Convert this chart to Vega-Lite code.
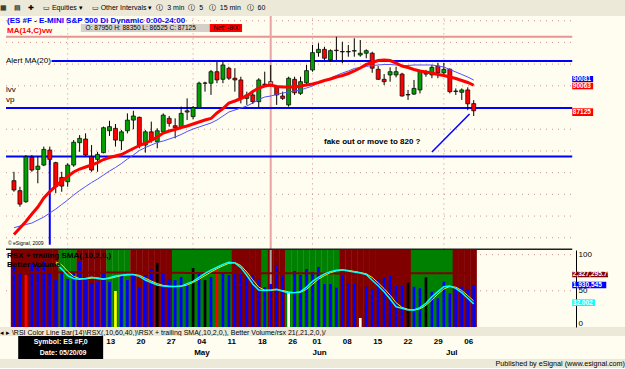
{
"$schema":"https://vega.github.io/schema/vega-lite/v6.json",
"background":"#ECE9D8",
"padding":{"left":0,"right":0,"top":4,"bottom":0},
"spacing":0,
"title":{"text":"\u00a0▦\u2003▤\u2003✚\u2003\u00a0▭\u00a0Equities\u00a0▾\u2003\u00a0▭\u00a0Other Intervals\u00a0▾\u00a0\u00a0Ⓘ\u00a0\u00a03 min\u00a0\u00a0Ⓘ\u00a0\u00a05\u00a0\u00a0\u00a0Ⓘ\u00a0\u00a015 min\u00a0\u00a0\u00a0Ⓘ\u00a0\u00a060","anchor":"start","fontSize":7,"fontWeight":"normal","offset":5,"color":"#000"},
"config":{"view":{"stroke":null},"font":"Liberation Sans","title":{"font":"Liberation Sans","fontWeight":"normal","color":"#000"}},
"datasets":{
"c":[
{"i":1,"o":79075,"h":80100,"l":77800,"c":78000,"m1":72871,"m2":73654,"v":2596000,"vc":"n","z":"d","vm":2350000},
{"i":2,"o":77925,"h":78375,"l":76075,"c":76375,"m1":73619,"m2":73850,"v":2330500,"vc":"n","z":"d","vm":2352000},
{"i":3,"o":76650,"h":82025,"l":76525,"c":81825,"m1":74368,"m2":74023,"v":2264200,"vc":"r","z":"d","vm":2354000},
{"i":4,"o":81775,"h":82025,"l":80100,"c":80300,"m1":75232,"m2":74195,"v":2662100,"vc":"n","z":"d","vm":2355000},
{"i":5,"o":80375,"h":81925,"l":78775,"c":80750,"m1":76039,"m2":74541,"v":2596000,"vc":"n","z":"d","vm":2356000},
{"i":6,"o":80875,"h":83000,"l":80750,"c":82675,"m1":77075,"m2":74887,"v":2695300,"vc":"n","z":"d","vm":2357000},
{"i":7,"o":82600,"h":83000,"l":80875,"c":81525,"m1":77824,"m2":75347,"v":2330500,"vc":"n","z":"d","vm":2357000},
{"i":8,"o":81150,"h":81250,"l":77625,"c":78375,"m1":78458,"m2":75808,"v":2131600,"vc":"n","z":"d","vm":2356000,"r1":88,"r2":90},
{"i":9,"o":79450,"h":80100,"l":77800,"c":78450,"m1":79034,"m2":76327,"v":2330500,"vc":"n","z":"u","vm":2355000,"r1":80,"r2":86},
{"i":10,"o":78950,"h":81075,"l":78375,"c":80875,"m1":79552,"m2":76845,"v":2131600,"vc":"n","z":"u","vm":2354000,"r1":71,"r2":77},
{"i":11,"o":80875,"h":83750,"l":80675,"c":83500,"m1":80071,"m2":77421,"v":2330500,"vc":"n","z":"u","vm":2353000,"r1":67,"r2":70},
{"i":12,"o":83450,"h":84325,"l":82400,"c":83950,"m1":80416,"m2":77939,"v":2695300,"vc":"n","z":"d","vm":2352000,"r1":66,"r2":67},
{"i":13,"o":83875,"h":84525,"l":81825,"c":82025,"m1":80647,"m2":78400,"v":2131600,"vc":"n","z":"d","vm":2351000,"r1":67,"r2":66.5},
{"i":14,"o":81825,"h":83175,"l":80100,"c":80300,"m1":80877,"m2":78861,"v":1999000,"vc":"n","z":"d","vm":2350000,"r1":68.7,"r2":67.5},
{"i":15,"o":81525,"h":82400,"l":80100,"c":82100,"m1":81165,"m2":79264,"v":2032100,"vc":"n","z":"d","vm":2349000,"r1":67,"r2":68},
{"i":16,"o":82300,"h":85300,"l":82225,"c":85175,"m1":81511,"m2":79725,"v":2330500,"vc":"n","z":"d","vm":2348000,"r1":66,"r2":66.5},
{"i":17,"o":84825,"h":85975,"l":84225,"c":85300,"m1":81741,"m2":80186,"v":2032100,"vc":"n","z":"u","vm":2347000,"r1":68,"r2":67},
{"i":18,"o":85100,"h":85600,"l":83000,"c":83750,"m1":81914,"m2":80589,"v":1733700,"vc":"y","z":"u","vm":2346000,"r1":70.5,"r2":69},
{"i":19,"o":83675,"h":84900,"l":82600,"c":84700,"m1":82087,"m2":81050,"v":2264200,"vc":"n","z":"u","vm":2345000,"r1":71.5,"r2":71},
{"i":20,"o":84825,"h":86825,"l":84525,"c":86050,"m1":82432,"m2":81568,"v":2098400,"vc":"n","z":"u","vm":2344000,"r1":72.5,"r2":72},
{"i":21,"o":86050,"h":87125,"l":85000,"c":86525,"m1":82778,"m2":82029,"v":2396800,"vc":"n","z":"d","vm":2343000,"r1":72.5,"r2":72.5},
{"i":22,"o":86375,"h":86450,"l":82800,"c":83175,"m1":83123,"m2":82547,"v":1866300,"vc":"n","z":"d","vm":2342000,"r1":70,"r2":71.5},
{"i":23,"o":83175,"h":84900,"l":82300,"c":84700,"m1":83411,"m2":82893,"v":2264200,"vc":"n","z":"d","vm":2341000,"r1":65,"r2":67.5},
{"i":24,"o":84700,"h":85875,"l":83450,"c":83750,"m1":83699,"m2":83181,"v":2463200,"vc":"n","z":"d","vm":2340000,"r1":61.5,"r2":63.5},
{"i":25,"o":83550,"h":85100,"l":82800,"c":84825,"m1":84103,"m2":83469,"v":2662100,"vc":"k","z":"d","vm":2339000,"r1":58,"r2":60},
{"i":26,"o":84700,"h":86825,"l":84525,"c":86625,"m1":84563,"m2":83642,"v":2330500,"vc":"n","z":"d","vm":2338000,"r1":56.5,"r2":57.5},
{"i":27,"o":86250,"h":86525,"l":85300,"c":85675,"m1":84794,"m2":83872,"v":2131600,"vc":"n","z":"d","vm":2337000,"r1":56,"r2":56.3},
{"i":28,"o":85400,"h":86250,"l":83950,"c":85175,"m1":84967,"m2":84103,"v":2098400,"vc":"n","z":"u","vm":2336000,"r1":55.8,"r2":56},
{"i":29,"o":85300,"h":87600,"l":85100,"c":86825,"m1":85197,"m2":84391,"v":2197900,"vc":"n","z":"u","vm":2335000,"r1":56.5,"r2":56.2},
{"i":30,"o":86975,"h":88550,"l":86050,"c":87125,"m1":85370,"m2":84736,"v":1999000,"vc":"n","z":"u","vm":2334000,"r1":60,"r2":58},
{"i":31,"o":86450,"h":87675,"l":86150,"c":87475,"m1":85600,"m2":85024,"v":2496300,"vc":"k","z":"u","vm":2333000,"r1":63,"r2":61.5},
{"i":32,"o":87475,"h":90475,"l":87400,"c":90300,"m1":85831,"m2":85255,"v":2330500,"vc":"n","z":"u","vm":2332000,"r1":68.5,"r2":66},
{"i":33,"o":90325,"h":90475,"l":89325,"c":90300,"m1":86061,"m2":85485,"v":2098400,"vc":"k","z":"u","vm":2331000,"r1":74,"r2":71},
{"i":34,"o":90300,"h":91825,"l":88950,"c":91625,"m1":86234,"m2":85715,"v":2197900,"vc":"n","z":"u","vm":2330000,"r1":78.5,"r2":76},
{"i":35,"o":91625,"h":92775,"l":90300,"c":90675,"m1":86867,"m2":86061,"v":2463200,"vc":"r","z":"u","vm":2330000,"r1":82.5,"r2":80.5},
{"i":36,"o":90750,"h":92775,"l":90300,"c":92400,"m1":87386,"m2":86522,"v":2363700,"vc":"n","z":"u","vm":2329000,"r1":86.5,"r2":84.5},
{"i":37,"o":92025,"h":92200,"l":90675,"c":90875,"m1":88019,"m2":86983,"v":2264200,"vc":"n","z":"u","vm":2328000,"r1":89.5,"r2":88},
{"i":38,"o":90875,"h":92025,"l":89325,"c":90675,"m1":88250,"m2":87213,"v":2330500,"vc":"n","z":"d","vm":2327000,"r1":88.5,"r2":89},
{"i":39,"o":90675,"h":91050,"l":87975,"c":88550,"m1":88538,"m2":87443,"v":2363700,"vc":"n","z":"d","vm":2326000,"r1":82,"r2":85},
{"i":40,"o":88550,"h":89325,"l":87800,"c":88950,"m1":88826,"m2":87674,"v":2197900,"vc":"n","z":"d","vm":2325000,"r1":71.5,"r2":76},
{"i":41,"o":88950,"h":89525,"l":87900,"c":88175,"m1":89344,"m2":88019,"v":2264200,"vc":"n","z":"d","vm":2324000,"r1":59.5,"r2":65},
{"i":42,"o":88175,"h":90875,"l":87525,"c":90675,"m1":89747,"m2":88423,"v":2131600,"vc":"n","z":"d","vm":2323000,"r1":51,"r2":55},
{"i":43,"o":90200,"h":91625,"l":90100,"c":90150,"m1":89978,"m2":88711,"v":1866300,"vc":"n","z":"u","vm":2322000,"r1":50.3,"r2":51},
{"i":44,"o":90475,"h":92400,"l":89900,"c":90100,"m1":90093,"m2":88826,"v":1965800,"vc":"n","z":"d","vm":2321000,"r1":51,"r2":50.7},
{"i":45,"o":89900,"h":90100,"l":87800,"c":88950,"m1":89920,"m2":88999,"v":2562600,"vc":"n","z":"d","vm":2321000,"r1":52,"r2":51.5},
{"i":46,"o":88825,"h":89325,"l":88375,"c":88550,"m1":89863,"m2":89171,"v":2264200,"vc":"n","z":"d","vm":2320000,"r1":49.5,"r2":50.5},
{"i":47,"o":87800,"h":91050,"l":87600,"c":90875,"m1":89863,"m2":89287,"v":1700500,"vc":"w","z":"u","vm":2320000,"r1":47.4,"r2":48.5},
{"i":48,"o":90750,"h":91050,"l":88950,"c":89200,"m1":89863,"m2":89402,"v":2396800,"vc":"n","z":"u","vm":2319000,"r1":47.5,"r2":47.5},
{"i":49,"o":89125,"h":91050,"l":88950,"c":90475,"m1":89978,"m2":89517,"v":2264200,"vc":"n","z":"u","vm":2319000,"r1":48.8,"r2":48},
{"i":50,"o":90350,"h":92400,"l":90100,"c":91750,"m1":90093,"m2":89747,"v":2463200,"vc":"n","z":"u","vm":2318000,"r1":55,"r2":52},
{"i":51,"o":91825,"h":94700,"l":91625,"c":93825,"m1":90208,"m2":89978,"v":2363700,"vc":"n","z":"u","vm":2318000,"r1":63,"r2":59},
{"i":52,"o":93825,"h":94900,"l":93350,"c":94200,"m1":90381,"m2":90323,"v":2529500,"vc":"n","z":"u","vm":2317000,"r1":68.5,"r2":66},
{"i":53,"o":94200,"h":94500,"l":92975,"c":93175,"m1":90611,"m2":90611,"v":1965800,"vc":"n","z":"u","vm":2316000,"r1":73.5,"r2":71},
{"i":54,"o":92975,"h":94200,"l":92775,"c":94050,"m1":90784,"m2":90899,"v":1965800,"vc":"n","z":"u","vm":2315000,"r1":76.5,"r2":75},
{"i":55,"o":94100,"h":95650,"l":92975,"c":94050,"m1":91015,"m2":91187,"v":1843200,"vc":"n","z":"u","vm":2315000,"r1":78.5,"r2":77.5},
{"i":56,"o":93950,"h":95075,"l":92600,"c":93900,"m1":91187,"m2":91475,"v":2287400,"vc":"n","z":"d","vm":2314000,"r1":79,"r2":78.7},
{"i":57,"o":93900,"h":94700,"l":93350,"c":93950,"m1":91418,"m2":91706,"v":1989000,"vc":"n","z":"d","vm":2314000,"r1":77.5,"r2":78.3},
{"i":58,"o":94000,"h":95475,"l":93350,"c":94050,"m1":91706,"m2":91994,"v":1989000,"vc":"n","z":"d","vm":2314000,"r1":76,"r2":76.8},
{"i":59,"o":93550,"h":95275,"l":93350,"c":93750,"m1":92051,"m2":92109,"v":838400,"vc":"w","z":"d","vm":2313000,"r1":74.5,"r2":75.3},
{"i":60,"o":93750,"h":94200,"l":93175,"c":94050,"m1":92455,"m2":92224,"v":1876300,"vc":"n","z":"d","vm":2313000,"r1":72.5,"r2":73.5},
{"i":61,"o":93750,"h":93925,"l":91500,"c":92025,"m1":92685,"m2":92339,"v":1766800,"vc":"n","z":"d","vm":2313000,"r1":64.5,"r2":68.5},
{"i":62,"o":91900,"h":92275,"l":90675,"c":90750,"m1":92915,"m2":92397,"v":2098400,"vc":"n","z":"d","vm":2314000,"r1":57,"r2":61},
{"i":63,"o":90750,"h":91350,"l":90100,"c":90475,"m1":92973,"m2":92455,"v":2187900,"vc":"n","z":"d","vm":2315000,"r1":48.8,"r2":53},
{"i":64,"o":91250,"h":92125,"l":90475,"c":91625,"m1":92915,"m2":92455,"v":2231100,"vc":"n","z":"d","vm":2316000,"r1":38.7,"r2":44},
{"i":65,"o":91250,"h":92200,"l":90975,"c":91625,"m1":92627,"m2":92397,"v":1899500,"vc":"n","z":"d","vm":2317000,"r1":28,"r2":33.5},
{"i":66,"o":91350,"h":91500,"l":88750,"c":88825,"m1":92282,"m2":92282,"v":1899500,"vc":"n","z":"d","vm":2318000,"r1":25.8,"r2":27},
{"i":67,"o":89000,"h":89525,"l":88375,"c":88950,"m1":92109,"m2":92339,"v":2009000,"vc":"k","z":"d","vm":2319000,"r1":23.5,"r2":24.5},
{"i":68,"o":89050,"h":90675,"l":88950,"c":89700,"m1":91879,"m2":92397,"v":1876300,"vc":"n","z":"u","vm":2320000,"r1":23.5,"r2":23.5},
{"i":69,"o":89525,"h":91825,"l":89125,"c":91750,"m1":91706,"m2":92397,"v":1823300,"vc":"n","z":"u","vm":2321000,"r1":26.7,"r2":25},
{"i":70,"o":91625,"h":91825,"l":91050,"c":91350,"m1":91591,"m2":92397,"v":2187900,"vc":"k","z":"u","vm":2322000,"r1":32.7,"r2":30},
{"i":71,"o":91250,"h":92400,"l":90875,"c":92125,"m1":91475,"m2":92397,"v":1710500,"vc":"n","z":"u","vm":2323000,"r1":41.9,"r2":37.5},
{"i":72,"o":92275,"h":92650,"l":90875,"c":91500,"m1":91303,"m2":92282,"v":1491600,"vc":"n","z":"u","vm":2324000,"r1":48.8,"r2":45.5},
{"i":73,"o":91500,"h":92650,"l":91250,"c":91900,"m1":91187,"m2":92167,"v":2042100,"vc":"n","z":"u","vm":2325000,"r1":55.7,"r2":52.5},
{"i":74,"o":91900,"h":92025,"l":89125,"c":89325,"m1":91015,"m2":91879,"v":1657400,"vc":"n","z":"u","vm":2325000,"r1":56.6,"r2":56},
{"i":75,"o":89400,"h":89700,"l":88950,"c":89350,"m1":90842,"m2":91591,"v":1876300,"vc":"n","z":"d","vm":2326000,"r1":53.4,"r2":55},
{"i":76,"o":89250,"h":89700,"l":88375,"c":89525,"m1":90611,"m2":91303,"v":1876300,"vc":"n","z":"d","vm":2326000,"r1":47.4,"r2":50.5},
{"i":77,"o":89525,"h":89825,"l":87200,"c":87925,"m1":90381,"m2":91015,"v":1790000,"vc":"n","z":"d","vm":2327000,"r1":39.7,"r2":43.5},
{"i":78,"o":87950,"h":88350,"l":86525,"c":87125,"m1":90063,"m2":90669,"v":1930545,"vc":"n","z":"d","vm":2327296,"r1":32.002,"r2":36}
],
"levels":[{"p":72500},{"p":75000},{"p":77500},{"p":80000},{"p":82500},{"p":85000},{"p":87500},{"p":90000},{"p":92500},{"p":95000},{"p":97500}]
},
"vconcat":[
{
"width":625,"height":234,
"view":{"fill":"#FFFCF0","stroke":null},
"layer":[
{"data":{"name":"levels"},"mark":{"type":"rule","color":"#cf9292","strokeDash":[1,5]},
 "encoding":{"x":{"datum":-0.33,"type":"quantitative","scale":{"domain":[-0.5,102.5],"nice":false,"zero":false},"axis":null},"x2":{"datum":94.5},
 "y":{"field":"p","type":"quantitative","scale":{"domain":[71090,98040],"nice":false,"zero":false},
  "axis":{"orient":"right","offset":-49,"values":[72500,75000,77500,80000,82500,85000,87500,90000,92500,95000,97500],"format":"d","title":null,"grid":false,"ticks":false,"labelPadding":2,"labelFontSize":8,"labelFont":"Liberation Sans","labelColor":"#000","domainColor":"#000","domainWidth":1,"labelAlign":"left","labelBaseline":"middle","labelOverlap":false,"labelFlush":false}}}},
{"data":{"values":[{"i":10},{"i":31},{"i":51},{"i":73}]},"mark":{"type":"rule","color":"#cf9292","strokeDash":[1,4]},
 "encoding":{"x":{"field":"i","type":"quantitative","scale":{"domain":[-0.5,102.5],"nice":false,"zero":false},"axis":null},
 "y":{"datum":71160,"type":"quantitative","scale":{"domain":[71090,98040],"nice":false,"zero":false},"axis":null},"y2":{"datum":97970}}},
{"data":{"values":[{"p":95650}]},"mark":{"type":"rule","color":"#e69494","strokeWidth":2},
 "encoding":{"x":{"datum":-0.33,"type":"quantitative","scale":{"domain":[-0.5,102.5],"nice":false,"zero":false},"axis":null},"x2":{"datum":94.5},
 "y":{"field":"p","type":"quantitative","scale":{"domain":[71090,98040],"nice":false,"zero":false},"axis":null}}},
{"data":{"values":[{"i":44}]},"mark":{"type":"bar","color":"#e8a4a4","width":2},
 "encoding":{"x":{"field":"i","type":"quantitative","scale":{"domain":[-0.5,102.5],"nice":false,"zero":false},"axis":null},
 "y":{"datum":71090,"type":"quantitative","scale":{"domain":[71090,98040],"nice":false,"zero":false},"axis":null},"y2":{"datum":98040}}},
{"data":{"values":[{"i":7,"p1":81850,"p2":71700}]},"mark":{"type":"rule","color":"#0000ff","strokeWidth":2},
 "encoding":{"x":{"field":"i","type":"quantitative","scale":{"domain":[-0.5,102.5],"nice":false,"zero":false},"axis":null},
 "y":{"field":"p1","type":"quantitative","scale":{"domain":[71090,98040],"nice":false,"zero":false},"axis":null},"y2":{"field":"p2"}}},
{"data":{"values":[{"p":87450},{"p":81850}]},"mark":{"type":"rule","color":"#0000ff","strokeWidth":2},
 "encoding":{"x":{"datum":-0.33,"type":"quantitative","scale":{"domain":[-0.5,102.5],"nice":false,"zero":false},"axis":null},"x2":{"datum":94.5},
 "y":{"field":"p","type":"quantitative","scale":{"domain":[71090,98040],"nice":false,"zero":false},"axis":null}}},
{"data":{"values":[{"p":92850}]},"mark":{"type":"rule","color":"#0000ff","strokeWidth":2},
 "encoding":{"x":{"datum":7.3,"type":"quantitative","scale":{"domain":[-0.5,102.5],"nice":false,"zero":false},"axis":null},"x2":{"datum":94.5},
 "y":{"field":"p","type":"quantitative","scale":{"domain":[71090,98040],"nice":false,"zero":false},"axis":null}}},
{"data":{"values":[{"i":71,"p":82375},{"i":77.3,"p":86750}]},"mark":{"type":"line","color":"#0000ff","strokeWidth":1.5},
 "encoding":{"x":{"field":"i","type":"quantitative","scale":{"domain":[-0.5,102.5],"nice":false,"zero":false},"axis":null},
 "y":{"field":"p","type":"quantitative","scale":{"domain":[71090,98040],"nice":false,"zero":false},"axis":null}}},
{"data":{"name":"c"},"mark":{"type":"rule","color":"#000","strokeWidth":1},
 "encoding":{"x":{"field":"i","type":"quantitative","scale":{"domain":[-0.5,102.5],"nice":false,"zero":false},"axis":null},
 "y":{"field":"l","type":"quantitative","scale":{"domain":[71090,98040],"nice":false,"zero":false},"axis":null},"y2":{"field":"h"}}},
{"data":{"name":"c"},"mark":{"type":"bar","width":4,"stroke":"#000","strokeWidth":0.7},
 "encoding":{"x":{"field":"i","type":"quantitative","scale":{"domain":[-0.5,102.5],"nice":false,"zero":false},"axis":null},
 "y":{"field":"o","type":"quantitative","scale":{"domain":[71090,98040],"nice":false,"zero":false},"axis":null},"y2":{"field":"c"},
 "color":{"condition":[{"test":"datum.i == 44","value":"#f4a4a4"},{"test":"datum.c >= datum.o","value":"#00a000"}],"value":"#ff0000"}}},
{"data":{"name":"c"},"mark":{"type":"line","color":"#5050ff","strokeWidth":1},
 "encoding":{"x":{"field":"i","type":"quantitative","scale":{"domain":[-0.5,102.5],"nice":false,"zero":false},"axis":null},
 "y":{"field":"m2","type":"quantitative","scale":{"domain":[71090,98040],"nice":false,"zero":false},"axis":null}}},
{"data":{"name":"c"},"mark":{"type":"line","color":"#ff0000","strokeWidth":3},
 "encoding":{"x":{"field":"i","type":"quantitative","scale":{"domain":[-0.5,102.5],"nice":false,"zero":false},"axis":null},
 "y":{"field":"m1","type":"quantitative","scale":{"domain":[71090,98040],"nice":false,"zero":false},"axis":null}}},
{"data":{"values":[{"i":-0.33,"p":71180}]},"mark":{"type":"rule","color":"#202020","strokeWidth":1.5},
 "encoding":{"x":{"field":"i","type":"quantitative","scale":{"domain":[-0.5,102.5],"nice":false,"zero":false},"axis":null},"x2":{"datum":94.5},
 "y":{"field":"p","type":"quantitative","scale":{"domain":[71090,98040],"nice":false,"zero":false},"axis":null}}},
{"data":{"values":[{"i":-0.5,"p":97470,"t":"(ES #F - E-MINI S&P 500 Di Dynamic 0:00-24:00"}]},"mark":{"type":"text","align":"left","baseline":"middle","dx":2,"fontSize":8,"fontWeight":"bold","color":"#0000ff"},
 "encoding":{"x":{"field":"i","type":"quantitative","scale":{"domain":[-0.5,102.5],"nice":false,"zero":false},"axis":null},
 "y":{"field":"p","type":"quantitative","scale":{"domain":[71090,98040],"nice":false,"zero":false},"axis":null},"text":{"field":"t"}}},
{"data":{"values":[{"i":-0.5,"p":96314,"t":"MA(14,C)vw"}]},"mark":{"type":"text","align":"left","baseline":"middle","dx":2,"fontSize":8,"fontWeight":"bold","color":"#ff0000"},
 "encoding":{"x":{"field":"i","type":"quantitative","scale":{"domain":[-0.5,102.5],"nice":false,"zero":false},"axis":null},
 "y":{"field":"p","type":"quantitative","scale":{"domain":[71090,98040],"nice":false,"zero":false},"axis":null},"text":{"field":"t"}}},
{"data":{"values":[{"i":-0.5,"p":92900,"t":"Alert MA(20)"},{"i":-0.5,"p":89517,"t":"lvv"},{"i":-0.5,"p":88365,"t":"vp"}]},"mark":{"type":"text","align":"left","baseline":"middle","dx":1,"fontSize":8,"color":"#000"},
 "encoding":{"x":{"field":"i","type":"quantitative","scale":{"domain":[-0.5,102.5],"nice":false,"zero":false},"axis":null},
 "y":{"field":"p","type":"quantitative","scale":{"domain":[71090,98040],"nice":false,"zero":false},"axis":null},"text":{"field":"t"}}},
{"data":{"values":[{"i":61,"p":83561,"t":"fake out or move to 820 ?"}]},"mark":{"type":"text","align":"center","baseline":"middle","fontSize":8,"fontWeight":"bold","color":"#000"},
 "encoding":{"x":{"field":"i","type":"quantitative","scale":{"domain":[-0.5,102.5],"nice":false,"zero":false},"axis":null},
 "y":{"field":"p","type":"quantitative","scale":{"domain":[71090,98040],"nice":false,"zero":false},"axis":null},"text":{"field":"t"}}},
{"data":{"values":[{"i":-0.5,"p":71892,"t":"© eSignal, 2009"}]},"mark":{"type":"text","align":"left","baseline":"middle","dx":3,"fontSize":5,"color":"#000"},
 "encoding":{"x":{"field":"i","type":"quantitative","scale":{"domain":[-0.5,102.5],"nice":false,"zero":false},"axis":null},
 "y":{"field":"p","type":"quantitative","scale":{"domain":[71090,98040],"nice":false,"zero":false},"axis":null},"text":{"field":"t"}}},
{"data":{"values":[{"a":12.2,"b":39.2,"p1":96200,"p2":97125,"k":"box"},{"a":33.8,"b":39.2,"p1":96200,"p2":97125,"k":"net"},{"a":94.5,"b":98,"p1":90438,"p2":91130,"k":"blue"},{"a":94.5,"b":98,"p1":89597,"p2":90360,"k":"red"},{"a":94.5,"b":98,"p1":86522,"p2":87409,"k":"red"}]},
 "mark":{"type":"rect"},
 "encoding":{"x":{"field":"a","type":"quantitative","scale":{"domain":[-0.5,102.5],"nice":false,"zero":false},"axis":null},"x2":{"field":"b"},
 "y":{"field":"p1","type":"quantitative","scale":{"domain":[71090,98040],"nice":false,"zero":false},"axis":null},"y2":{"field":"p2"},
 "color":{"field":"k","type":"nominal","scale":{"domain":["box","net","blue","red"],"range":["#d4d0c8","#ff0000","#0000ff","#ff0000"]},"legend":null}}},
{"data":{"values":[{"i":13,"p":96660,"t":"O: 87950    H: 88350    L: 86525    C: 87125"},{"i":34.4,"p":96660,"t":"Net: -800"}]},"mark":{"type":"text","align":"left","baseline":"middle","fontSize":6.5,"color":"#000"},
 "encoding":{"x":{"field":"i","type":"quantitative","scale":{"domain":[-0.5,102.5],"nice":false,"zero":false},"axis":null},
 "y":{"field":"p","type":"quantitative","scale":{"domain":[71090,98040],"nice":false,"zero":false},"axis":null},"text":{"field":"t"}}},
{"data":{"values":[{"i":94.6,"p":90784,"t":"90081"},{"i":94.6,"p":89978,"t":"90063"},{"i":94.6,"p":86966,"t":"87125"}]},"mark":{"type":"text","align":"left","baseline":"middle","fontSize":6.5,"fontWeight":"bold","color":"#fff"},
 "encoding":{"x":{"field":"i","type":"quantitative","scale":{"domain":[-0.5,102.5],"nice":false,"zero":false},"axis":null},
 "y":{"field":"p","type":"quantitative","scale":{"domain":[71090,98040],"nice":false,"zero":false},"axis":null},"text":{"field":"t"}}}
]
},
{
"width":625,"height":77,
"view":{"fill":"#FFFCF0","stroke":null},
"title":{"text":"◂ ▸ \\RSI Color Line Bar(14)\\RSX(,10,60,40,)\\RSX + trailing SMA(,10,2,0,), Better Volume/rsx 21(,21,2,0,)/","orient":"bottom","anchor":"start","fontSize":7,"offset":2,"color":"#000"},
"resolve":{"scale":{"y":"independent","color":"independent"}},
"layer":[
{"data":{"values":[{"r":50},{"r":100}]},"mark":{"type":"rule","color":"#cf9292","strokeDash":[1,5]},
 "encoding":{"x":{"datum":-0.33,"type":"quantitative","scale":{"domain":[-0.5,102.5],"nice":false,"zero":false},"axis":null},"x2":{"datum":94.5},
 "y":{"field":"r","type":"quantitative","scale":{"domain":[0,106.4],"nice":false,"zero":false},
  "axis":{"orient":"right","offset":-49,"values":[0,50,100],"title":null,"grid":false,"ticks":false,"labelPadding":2,"labelFontSize":8,"labelFont":"Liberation Sans","labelColor":"#000","domainColor":"#000","domainWidth":1,"labelAlign":"left","labelBaseline":{"condition":{"test":"datum.value == 0","value":"bottom"},"value":"middle"},"labelOverlap":false,"labelFlush":false}}}},
{"data":{"name":"c"},"mark":{"type":"bar","width":6.3},
 "encoding":{"x":{"field":"i","type":"quantitative","scale":{"domain":[-0.5,102.5],"nice":false,"zero":false},"axis":null},
 "y":{"datum":0,"type":"quantitative","scale":{"domain":[0,106.4],"nice":false,"zero":false},"axis":null},"y2":{"datum":106.4},
 "color":{"field":"z","type":"nominal","scale":{"domain":["u","d"],"range":["#008000","#800000"]},"legend":null}}},
{"data":{"values":[{"i":44}]},"mark":{"type":"bar","color":"#a8a8a8","width":2},
 "encoding":{"x":{"field":"i","type":"quantitative","scale":{"domain":[-0.5,102.5],"nice":false,"zero":false},"axis":null},
 "y":{"datum":0,"type":"quantitative","scale":{"domain":[0,106.4],"nice":false,"zero":false},"axis":null},"y2":{"datum":106.4}}},
{"data":{"name":"c"},"mark":{"type":"bar","width":2.7},
 "encoding":{"x":{"field":"i","type":"quantitative","scale":{"domain":[-0.5,102.5],"nice":false,"zero":false},"axis":null},
 "y":{"field":"v","type":"quantitative","scale":{"domain":[540000,3093000],"nice":false,"zero":false},"axis":null},"y2":{"datum":540000},
 "color":{"field":"vc","type":"nominal","scale":{"domain":["n","r","y","k","w"],"range":["#0000ff","#ff0000","#ffff00","#000000","#ffffff"]},"legend":null}}},
{"data":{"name":"c"},"mark":{"type":"line","color":"#800000","strokeWidth":2},
 "encoding":{"x":{"field":"i","type":"quantitative","scale":{"domain":[-0.5,102.5],"nice":false,"zero":false},"axis":null},
 "y":{"field":"vm","type":"quantitative","scale":{"domain":[540000,3093000],"nice":false,"zero":false},"axis":null}}},
{"data":{"name":"c"},"mark":{"type":"line","color":"#f0f000","strokeWidth":1},
 "encoding":{"x":{"field":"i","type":"quantitative","scale":{"domain":[-0.5,102.5],"nice":false,"zero":false},"axis":null},
 "y":{"field":"r2","type":"quantitative","scale":{"domain":[0,106.4],"nice":false,"zero":false},"axis":null}}},
{"data":{"name":"c"},"mark":{"type":"line","color":"#00ffff","strokeWidth":1.5},
 "encoding":{"x":{"field":"i","type":"quantitative","scale":{"domain":[-0.5,102.5],"nice":false,"zero":false},"axis":null},
 "y":{"field":"r1","type":"quantitative","scale":{"domain":[0,106.4],"nice":false,"zero":false},"axis":null}}},
{"data":{"values":[{"i":-0.5,"r":98,"t":"RSX + trailing SMA(,10,2,0,)"},{"i":-0.5,"r":85,"t":"Better Volume"}]},"mark":{"type":"text","align":"left","baseline":"middle","dx":2,"fontSize":8,"fontWeight":"bold","color":"#000"},
 "encoding":{"x":{"field":"i","type":"quantitative","scale":{"domain":[-0.5,102.5],"nice":false,"zero":false},"axis":null},
 "y":{"field":"r","type":"quantitative","scale":{"domain":[0,106.4],"nice":false,"zero":false},"axis":null},"text":{"field":"t"}}},
{"data":{"values":[{"a":94.5,"b":100.5,"v1":2188000,"v2":2373600,"k":"ma"},{"a":94.5,"b":100.2,"v1":1823000,"v2":2042000,"k":"vol"}]},"mark":{"type":"rect"},
 "encoding":{"x":{"field":"a","type":"quantitative","scale":{"domain":[-0.5,102.5],"nice":false,"zero":false},"axis":null},"x2":{"field":"b"},
 "y":{"field":"v1","type":"quantitative","scale":{"domain":[540000,3093000],"nice":false,"zero":false},"axis":null},"y2":{"field":"v2"},
 "color":{"field":"k","type":"nominal","scale":{"domain":["ma","vol"],"range":["#800000","#0000ff"]},"legend":null}}},
{"data":{"values":[{"i":94.6,"v":2280800,"t":"2,327,295.79"},{"i":94.6,"v":1932500,"t":"1,930,545"}]},"mark":{"type":"text","align":"left","baseline":"middle","fontSize":6.5,"fontWeight":"bold","color":"#fff"},
 "encoding":{"x":{"field":"i","type":"quantitative","scale":{"domain":[-0.5,102.5],"nice":false,"zero":false},"axis":null},
 "y":{"field":"v","type":"quantitative","scale":{"domain":[540000,3093000],"nice":false,"zero":false},"axis":null},"text":{"field":"t"}}},
{"data":{"values":[{"a":94.5,"b":98.3,"r1":29,"r2":38.3}]},"mark":{"type":"rect","color":"#00ffff"},
 "encoding":{"x":{"field":"a","type":"quantitative","scale":{"domain":[-0.5,102.5],"nice":false,"zero":false},"axis":null},"x2":{"field":"b"},
 "y":{"field":"r1","type":"quantitative","scale":{"domain":[0,106.4],"nice":false,"zero":false},"axis":null},"y2":{"field":"r2"}}},
{"data":{"values":[{"i":94.6,"r":33.6,"t":"32.002"}]},"mark":{"type":"text","align":"left","baseline":"middle","fontSize":6.5,"fontWeight":"bold","color":"#fff"},
 "encoding":{"x":{"field":"i","type":"quantitative","scale":{"domain":[-0.5,102.5],"nice":false,"zero":false},"axis":null},
 "y":{"field":"r","type":"quantitative","scale":{"domain":[0,106.4],"nice":false,"zero":false},"axis":null},"text":{"field":"t"}}}
]
},
{
"width":625,"height":23,
"view":{"fill":"#FFFCF0","stroke":null},
"title":{"text":"Published by eSignal (www.esignal.com)","orient":"bottom","anchor":"end","fontSize":7.2,"offset":1,"color":"#000"},
"layer":[
{"data":{"values":[{"a":2.5,"b":16.5}]},"mark":{"type":"rect","color":"#000"},
 "encoding":{"x":{"field":"a","type":"quantitative","scale":{"domain":[-0.5,102.5],"nice":false,"zero":false},"axis":null},"x2":{"field":"b"}}},
{"data":{"values":[{"i":9.5,"r":"d","t":"Symbol: ES #F,0"},{"i":9.9,"r":"m","t":"Date: 05/20/09"}]},"mark":{"type":"text","align":"center","baseline":"middle","fontSize":7,"fontWeight":"bold","color":"#fff"},
 "encoding":{"x":{"field":"i","type":"quantitative","scale":{"domain":[-0.5,102.5],"nice":false,"zero":false},"axis":null},
 "y":{"field":"r","type":"nominal","scale":{"domain":["d","m"]},"axis":null},"text":{"field":"t"}}},
{"data":{"values":[{"i":17,"r":"d","t":"13"},{"i":22,"r":"d","t":"20"},{"i":27,"r":"d","t":"27"},{"i":32,"r":"d","t":"04"},{"i":37,"r":"d","t":"11"},{"i":42,"r":"d","t":"18"},{"i":47,"r":"d","t":"26"},{"i":51,"r":"d","t":"01"},{"i":56,"r":"d","t":"08"},{"i":61,"r":"d","t":"15"},{"i":66,"r":"d","t":"22"},{"i":71,"r":"d","t":"29"},{"i":76,"r":"d","t":"06"},{"i":31.5,"r":"m","t":"May"},{"i":51,"r":"m","t":"Jun"},{"i":73,"r":"m","t":"Jul"}]},
 "mark":{"type":"text","align":"left","baseline":"middle","fontSize":8,"fontWeight":"bold","color":"#000"},
 "encoding":{"x":{"field":"i","type":"quantitative","scale":{"domain":[-0.5,102.5],"nice":false,"zero":false},"axis":null},
 "y":{"field":"r","type":"nominal","scale":{"domain":["d","m"]},"axis":null},"text":{"field":"t"}}}
]
}
]
}
